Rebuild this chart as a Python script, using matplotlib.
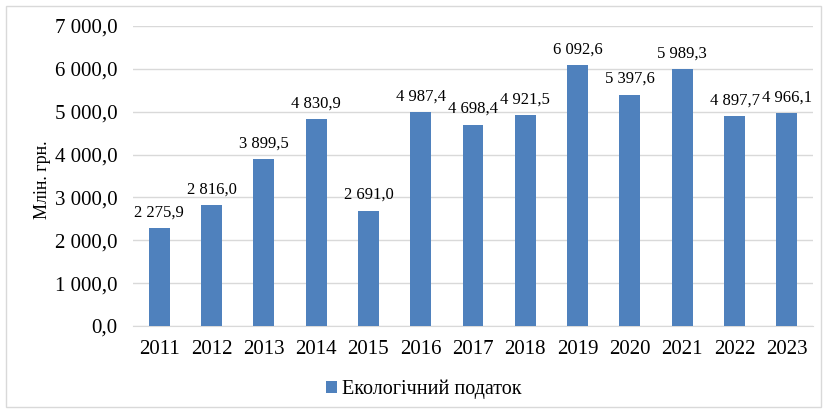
import matplotlib
matplotlib.use("Agg")
import matplotlib.pyplot as plt
from matplotlib.patches import Rectangle

years = ["2011", "2012", "2013", "2014", "2015", "2016", "2017", "2018", "2019", "2020", "2021", "2022", "2023"]
values = [2275.9, 2816.0, 3899.5, 4830.9, 2691.0, 4987.4, 4698.4, 4921.5, 6092.6, 5397.6, 5989.3, 4897.7, 4966.1]
series_name = "Екологічний податок"
y_label = "Млін. грн."

def fmt(v, dec=1):
    s = f"{v:,.{dec}f}"
    return s.replace(",", " ").replace(".", ",")

plt.rcParams['font.family'] = ['Liberation Serif', 'DejaVu Serif']

fig = plt.figure(figsize=(8.28, 4.13), dpi=100)
ax = fig.add_axes([133/828, 1 - 326/413, (813-133)/828, (326-26)/413])

x = range(len(years))
bars = ax.bar(x, values, width=0.40, color="#4F81BD", label=series_name, zorder=3)
for xi, v in zip(x, values):
    ax.annotate(fmt(v), (xi, v), xytext=(0, 5.5), textcoords="offset points",
                ha="center", va="bottom", fontsize=12, color="#000000")

ax.set_xlim(-0.5, len(years) - 0.5)
ax.set_ylim(0, 7000)
ax.set_yticks(range(0, 7001, 1000))
ax.set_yticklabels([fmt(t) for t in range(0, 7001, 1000)], fontsize=15)
ax.set_xticks(list(x))
ax.set_xticklabels(years, fontsize=15)
ax.grid(axis="y", color="#D9D9D9", linewidth=1, zorder=0)
for s in ["top", "right", "left"]:
    ax.spines[s].set_visible(False)
ax.spines["bottom"].set_color("#D9D9D9")
ax.tick_params(axis="y", length=0, pad=11)
ax.tick_params(axis="x", length=0, pad=10)
ax.set_ylabel(y_label, fontsize=13)
ax.yaxis.set_label_coords(-82/680, 0.487)

fig.legend(handles=[bars], labels=[series_name], loc="center", bbox_to_anchor=(424/828, 1 - 389/413),
           frameon=False, fontsize=14.5, handlelength=0.55, handleheight=0.55, handletextpad=0.25)

fig.patches.append(Rectangle((6/828, 6/413), (821-6)/828, (407-6)/413, transform=fig.transFigure,
                             fill=False, edgecolor="#D9D9D9", linewidth=1))

fig.savefig("out.png", dpi=100)
